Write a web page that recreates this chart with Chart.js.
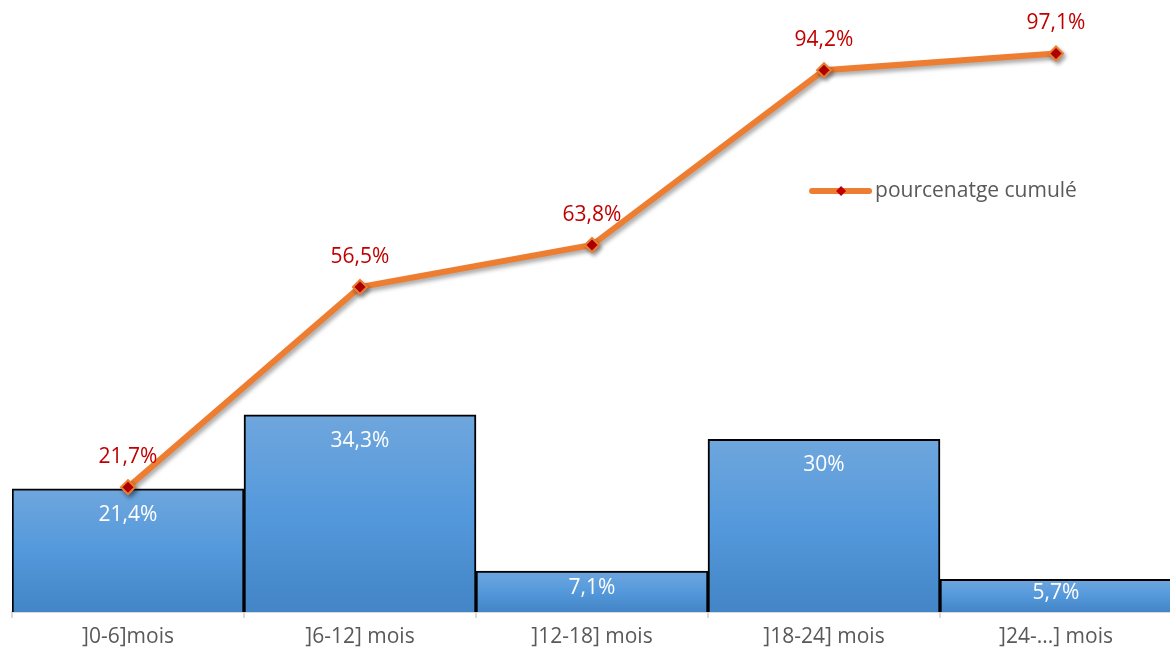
<!DOCTYPE html>
<html lang="fr">

<head>
    <meta charset="UTF-8">
    <title>Pourcentage cumulé</title>
    <script src="https://cdn.jsdelivr.net/npm/chart.js"></script>
    <style>
        html, body {
            margin: 0;
            padding: 0;
            background: #ffffff;
            overflow: hidden;
        }

        .chart-container {
            width: 1172px;
            height: 657px;
        }
    </style>
</head>

<body>
    <div class="chart-container">
        <canvas id="chart"></canvas>
    </div>

    <script>
        const categories = [']0-6]mois', ']6-12] mois', ']12-18] mois', ']18-24] mois', ']24-...] mois'];
        const barValues = [21.4, 34.3, 7.1, 30, 5.7];
        const cumulValues = [21.7, 56.5, 63.8, 94.2, 97.1];
        const cumulLabel = 'pourcenatge cumulé';

        const FONT = '"Open Sans", sans-serif';
        const FONT_SIZE = 21;

        const fmt = v => String(v).replace('.', ',') + '%';

        // per-bar vertical gradient, lighter at the top
        const barFill = ctx => {
            const chart = ctx.chart;
            if (!chart.chartArea || ctx.raw === undefined) return '#5b9bd5';
            const y = chart.scales.y;
            const top = y.getPixelForValue(ctx.raw);
            const bottom = y.getPixelForValue(0);
            const g = chart.ctx.createLinearGradient(0, top, 0, bottom);
            g.addColorStop(0, '#6fa6dd');
            g.addColorStop(0.5, '#5499dc');
            g.addColorStop(1, '#4385c6');
            return g;
        };

        // drop shadow under the cumulative line
        const lineShadow = {
            id: 'lineShadow',
            beforeDatasetDraw(chart, args) {
                if (chart.data.datasets[args.index].type !== 'line') return;
                const c = chart.ctx;
                c.save();
                c.shadowColor = 'rgba(0,0,0,0.35)';
                c.shadowBlur = 4;
                c.shadowOffsetX = 2;
                c.shadowOffsetY = 3;
            },
            afterDatasetDraw(chart, args) {
                if (chart.data.datasets[args.index].type !== 'line') return;
                chart.ctx.restore();
            }
        };

        // value labels: white inside the bars, red above the line points
        const valueLabels = {
            id: 'valueLabels',
            afterDatasetsDraw(chart) {
                const c = chart.ctx;
                c.save();
                c.font = FONT_SIZE + 'px ' + FONT;
                c.textAlign = 'center';
                c.textBaseline = 'middle';
                chart.data.datasets.forEach((ds, i) => {
                    const meta = chart.getDatasetMeta(i);
                    meta.data.forEach((el, j) => {
                        const v = ds.data[j];
                        if (ds.type === 'bar') {
                            const h = el.base - el.y;
                            c.fillStyle = '#ffffff';
                            c.fillText(fmt(v), el.x, el.y + Math.min(26, h * 0.42));
                        } else {
                            c.fillStyle = '#c00000';
                            c.fillText(fmt(v), el.x, el.y - 30);
                        }
                    });
                });
                c.restore();
            }
        };

        // legend entry drawn inside the plot area
        const insideLegend = {
            id: 'insideLegend',
            afterDraw(chart) {
                const ds = chart.data.datasets.find(d => d.type === 'line');
                const a = chart.chartArea;
                const x = a.left + (a.right - a.left) * 0.6897;
                const y = 191;
                const c = chart.ctx;
                c.save();
                c.strokeStyle = ds.borderColor;
                c.lineWidth = 6;
                c.lineCap = 'round';
                c.beginPath();
                c.moveTo(x, y);
                c.lineTo(x + 57, y);
                c.stroke();
                c.fillStyle = ds.pointBackgroundColor;
                c.beginPath();
                c.moveTo(x + 29, y - 5);
                c.lineTo(x + 34, y);
                c.lineTo(x + 29, y + 5);
                c.lineTo(x + 24, y);
                c.closePath();
                c.fill();
                c.fillStyle = '#595959';
                c.font = FONT_SIZE + 'px ' + FONT;
                c.textBaseline = 'middle';
                c.fillText(ds.label, x + 63, y);
                c.restore();
            }
        };

        new Chart(document.getElementById('chart').getContext('2d'), {
            data: {
                labels: categories,
                datasets: [
                    {
                        type: 'line',
                        label: cumulLabel,
                        data: cumulValues,
                        borderColor: '#ed7d31',
                        borderWidth: 6,
                        pointStyle: 'rectRot',
                        pointRadius: 7,
                        pointBorderWidth: 2,
                        pointBackgroundColor: '#c00000',
                        pointBorderColor: '#ed7d31',
                        tension: 0,
                        order: 0
                    },
                    {
                        type: 'bar',
                        label: 'pourcentage',
                        data: barValues,
                        backgroundColor: barFill,
                        borderColor: '#000000',
                        borderWidth: 2,
                        barPercentage: 1,
                        categoryPercentage: 1,
                        order: 1
                    }
                ]
            },
            options: {
                animation: false,
                responsive: true,
                maintainAspectRatio: false,
                layout: { autoPadding: false, padding: { left: 12, right: 0, top: 0, bottom: 0 } },
                plugins: {
                    legend: { display: false },
                    tooltip: { enabled: false }
                },
                scales: {
                    x: {
                        offset: true,
                        grid: {
                            offset: true,
                            drawOnChartArea: false,
                            drawTicks: true,
                            tickLength: 6,
                            color: '#d9d9d9',
                            lineWidth: 2
                        },
                        border: { color: '#d9d9d9', width: 2 },
                        ticks: {
                            color: '#595959',
                            font: { family: FONT, size: FONT_SIZE, lineHeight: 1.0 },
                            padding: 9,
                            maxRotation: 0
                        }
                    },
                    y: {
                        display: false,
                        min: 0,
                        max: 106.4
                    }
                }
            },
            plugins: [lineShadow, valueLabels, insideLegend]
        });
    </script>
</body>

</html>
